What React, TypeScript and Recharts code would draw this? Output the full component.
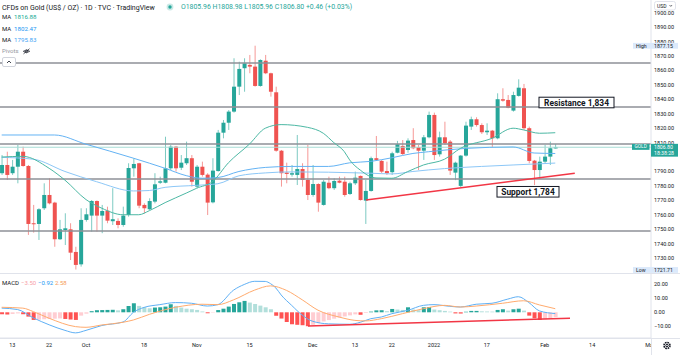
import React from 'react';
import { ComposedChart, Bar, Line, XAxis, YAxis, ReferenceLine, Cell } from 'recharts';

// Daily candles, index 0 = 9 Sep 2021 ... index 105 = 3 Feb 2022
const opens = [
  1788.8, 1794.5, 1788.8, 1793.3, 1803.7, 1793.8, 1754.1, 1753.6, 1764.5, 1773.7,
  1768.4, 1743.0, 1749.4, 1749.9, 1734.2, 1725.6, 1756.4, 1759.4, 1769.5, 1759.4,
  1762.8, 1755.5, 1755.7, 1752.9, 1759.8, 1792.2, 1795.7, 1766.8, 1763.8, 1769.1,
  1782.2, 1782.2, 1792.2, 1807.2, 1792.6, 1795.7, 1799.2, 1779.5, 1793.3, 1787.8,
  1768.6, 1790.3, 1816.9, 1823.8, 1831.5, 1848.8, 1861.6, 1863.9, 1862.7, 1849.3,
  1866.8, 1858.1, 1844.9, 1804.4, 1789.2, 1787.8, 1787.6, 1791.7, 1784.1, 1773.7,
  1781.3, 1766.8, 1782.2, 1778.4, 1783.6, 1782.9, 1774.4, 1781.8, 1786.9, 1769.8,
  1776.5, 1799.2, 1797.3, 1790.3, 1789.5, 1803.0, 1807.7, 1804.9, 1811.8, 1806.8,
  1804.4, 1813.7, 1829.2, 1801.9, 1813.7, 1810.7, 1789.2, 1780.0, 1801.0, 1821.1,
  1826.2, 1822.2, 1817.2, 1818.3, 1813.0, 1840.1, 1839.6, 1832.2, 1842.4, 1847.7,
  1820.0, 1797.5, 1791.0, 1796.8, 1800.3, 1805.96,
];
const highs = [
  1801.4, 1803.7, 1798.0, 1808.4, 1807.2, 1794.5, 1766.8, 1764.5, 1781.8, 1785.3,
  1769.0, 1756.4, 1761.0, 1754.1, 1737.8, 1764.5, 1764.5, 1770.2, 1769.9, 1766.8,
  1765.6, 1778.4, 1757.5, 1765.6, 1795.7, 1799.2, 1796.0, 1767.9, 1771.4, 1788.8,
  1786.4, 1814.1, 1808.4, 1807.7, 1801.4, 1810.7, 1801.4, 1794.5, 1796.8, 1788.8,
  1799.2, 1818.8, 1825.7, 1832.6, 1868.5, 1866.1, 1868.5, 1870.8, 1877.2, 1867.8,
  1870.8, 1858.5, 1848.8, 1804.9, 1796.1, 1794.5, 1815.3, 1795.7, 1808.4, 1794.5,
  1781.8, 1784.1, 1786.4, 1785.3, 1786.4, 1786.4, 1782.9, 1789.9, 1787.2, 1784.1,
  1800.3, 1814.6, 1798.0, 1796.8, 1803.7, 1811.2, 1811.8, 1813.0, 1820.0, 1808.4,
  1815.3, 1831.5, 1830.8, 1817.6, 1824.5, 1811.8, 1796.8, 1801.4, 1824.5, 1828.0,
  1827.6, 1823.4, 1823.4, 1818.8, 1844.2, 1847.7, 1843.0, 1845.3, 1853.9, 1850.7,
  1821.1, 1798.0, 1800.3, 1808.4, 1810.7, 1808.98,
];
const lows = [
  1787.6, 1784.1, 1787.6, 1781.8, 1793.3, 1746.0, 1747.6, 1742.5, 1763.3, 1767.2,
  1737.8, 1742.5, 1739.0, 1728.6, 1722.0, 1724.0, 1755.2, 1748.3, 1748.3, 1747.2,
  1754.1, 1752.9, 1750.6, 1751.7, 1758.7, 1786.4, 1764.5, 1761.0, 1763.3, 1767.9,
  1781.4, 1781.8, 1791.0, 1789.9, 1791.0, 1794.5, 1779.5, 1778.4, 1786.4, 1759.8,
  1767.9, 1789.9, 1813.0, 1818.8, 1830.8, 1843.0, 1845.3, 1858.1, 1848.8, 1848.8,
  1857.5, 1841.9, 1803.7, 1779.5, 1781.8, 1786.4, 1780.6, 1779.5, 1770.2, 1772.5,
  1762.1, 1766.3, 1777.7, 1777.2, 1781.8, 1772.5, 1773.7, 1780.6, 1769.8, 1753.6,
  1776.0, 1797.5, 1788.8, 1787.6, 1787.6, 1802.6, 1801.4, 1803.0, 1805.4, 1791.0,
  1798.0, 1813.0, 1798.0, 1800.3, 1808.4, 1787.6, 1784.0, 1779.0, 1800.3, 1818.8,
  1821.1, 1816.0, 1815.3, 1806.8, 1812.3, 1838.4, 1833.8, 1831.5, 1841.9, 1818.8,
  1795.7, 1780.6, 1785.3, 1795.7, 1794.5, 1805.96,
];
const closes = [
  1794.5, 1787.6, 1793.3, 1803.7, 1793.8, 1753.6, 1753.4, 1763.8, 1773.7, 1767.9,
  1743.0, 1749.9, 1750.6, 1733.7, 1725.2, 1756.4, 1760.3, 1769.5, 1759.4, 1762.6,
  1755.9, 1756.9, 1752.9, 1759.4, 1792.4, 1795.2, 1766.3, 1764.5, 1769.5, 1781.1,
  1783.2, 1792.2, 1807.2, 1792.2, 1796.1, 1799.2, 1782.9, 1793.3, 1787.6, 1768.4,
  1790.6, 1816.9, 1823.8, 1831.5, 1848.8, 1861.1, 1865.0, 1862.7, 1849.3, 1867.3,
  1858.1, 1845.3, 1804.4, 1788.8, 1788.3, 1788.8, 1791.7, 1784.1, 1773.7, 1781.3,
  1768.4, 1782.9, 1778.4, 1783.4, 1782.2, 1773.7, 1781.8, 1785.7, 1770.2, 1776.5,
  1799.2, 1798.0, 1789.9, 1788.8, 1802.6, 1808.9, 1802.1, 1811.4, 1806.1, 1804.4,
  1813.7, 1829.2, 1801.4, 1813.7, 1809.6, 1790.6, 1796.1, 1801.0, 1821.8, 1826.2,
  1822.2, 1817.2, 1818.3, 1813.0, 1840.1, 1839.1, 1834.2, 1843.0, 1848.1, 1820.0,
  1797.3, 1791.0, 1796.8, 1800.3, 1806.1, 1806.8,
];

// moving averages: [bar index, value]
const maFast: [number, number][] = [
  [0, 1800], [4, 1800.5], [9, 1792.2], [12, 1784], [16, 1770.5], [19, 1764.5], [23, 1760],
  [26, 1760], [28, 1762.8], [31, 1768.4], [35, 1775], [37, 1778.4], [40, 1783], [43, 1796],
  [47, 1809], [50, 1820], [53, 1822.5], [58, 1820.6], [61, 1816.5], [63, 1810], [65, 1803.7],
  [66, 1798], [68, 1791], [71, 1785.5], [74, 1785.3], [77, 1789.9], [80, 1794.5], [84, 1798.5],
  [87, 1806], [93, 1813], [97, 1820], [99, 1818.8], [102, 1816.5], [105, 1816.88],
];
const maMid: [number, number][] = [
  [0, 1815.3], [10, 1815.3], [16, 1808.9], [25, 1799.2], [31, 1792.2], [35, 1787.1],
  [38, 1785.3], [41, 1785.8], [45, 1790], [50, 1792.8], [55, 1793.5], [62, 1793.5],
  [66, 1796], [70, 1797], [74, 1799.5], [78, 1802.5], [81, 1803.7], [88, 1806], [97, 1807],
  [101, 1802.8], [105, 1802.47],
];
const maSlow: [number, number][] = [
  [0, 1799.8], [6, 1798.5], [12, 1790], [18, 1782.9], [25, 1776.5], [28, 1776.8],
  [31, 1779], [37, 1780.4], [41, 1781.5], [45, 1787], [50, 1789], [55, 1789.7], [62, 1789.5],
  [70, 1788.8], [74, 1788.3], [78, 1790], [84, 1792], [91, 1793.5], [97, 1794.5], [105, 1795.83],
];

// MACD pane
const histValues = [
  -1.4, -1.6, -1.2, -0.8, -1.4, -3.1, -5.5, -5.3, -5.0, -4.8,
  -4.6, -4.4, -4.8, -5.2, -5.5, -2.4, -1.0, 0.8, 1.5, 1.6,
  1.7, 1.8, 1.4, 2.2, 4.6, 6.5, 4.6, 3.6, 2.9, 3.4,
  3.6, 4.1, 5.8, 4.6, 3.4, 2.6, 2.2, 1.7, 0.6, -0.7,
  -0.3, 1.6, 2.6, 4.1, 6.0, 7.2, 8.2, 7.0, 6.0, 4.8,
  3.6, 2.2, -2.5, -4.5, -7.0, -8.6, -9.0, -9.3, -10.0, -9.0,
  -7.8, -6.6, -5.6, -4.6, -3.8, -3.0, -2.2, -1.5, -1.8, -0.5,
  0.5, 1.4, 1.5, 0.8, 2.4, 2.0, 1.7, 3.6, 2.0, 1.5,
  3.6, 3.8, 2.0, 1.5, 1.0, 0.5, -0.8, -0.9, 0.4, 1.0,
  1.0, 0.7, 0.6, 0.5, 1.7, 2.2, 1.2, 2.2, 2.6, 1.2,
  -2.4, -4.3, -5.5, -5.0, -4.3, -3.5,
];
const macdLine: [number, number][] = [
  [0, 3], [3, 2], [6, -4], [9, -9], [12, -13], [14, -14.8], [16, -13], [19, -9.5], [23, -7],
  [25, 0], [27, 3.5], [30, 5.5], [33, 7], [36, 6.5], [39, 4.5], [41, 5.5], [44, 16], [46, 20],
  [48, 22.3], [50, 22.2], [51, 20.6], [52, 17.5], [53, 12.5], [55, 5], [57, -2], [59, -6.5],
  [62, -8.3], [66, -8.6], [68, -7.2], [70, -4.6], [72, -3.4], [74, -1], [77, 1.4], [80, 5],
  [82, 5.5], [85, 4.3], [87, 3.8], [90, 5.8], [93, 6.5], [96, 9.5], [98, 11.2], [100, 7],
  [102, 1], [105, -0.92],
];
const signalLine: [number, number][] = [
  [0, 3.6], [4, 3], [6, 0.5], [9, -4.3], [14, -10.3], [16, -10.8], [19, -9.1], [23, -7.2],
  [25, -5.5], [28, -1.5], [33, 3.6], [38, 5.8], [41, 5.5], [44, 9], [48, 16], [51, 19],
  [54, 15.8], [57, 9], [60, 1.5], [64, -3.4], [67, -5.8], [69, -6.2], [72, -4.6], [76, -1],
  [80, 2.6], [84, 5], [87, 3.8], [90, 4.5], [95, 6.5], [99, 8.3], [102, 5.3], [105, 2.58],
];

const tickIdx = [2, 9, 16, 27, 37, 47, 59, 67, 74, 82, 92, 103, 112, 123];
const tickLabels = ['13', '22', 'Oct', '18', 'Nov', '15', 'Dec', '13', '22', '2022', '17', 'Feb', '14', 'Mar'];
const priceTicks = [1730, 1740, 1750, 1760, 1770, 1780, 1790, 1810, 1820, 1830, 1840, 1850, 1860, 1870, 1880, 1890, 1900];
const macdTicks = [-10, 0, 10, 20];

const levels = [1865.2, 1834.7, 1809.1, 1784.8, 1748.7];
const resistance = 1834.7;
const support = 1784.8;
const lastPrice = 1806.8;
const periodHigh = 1877.15;
const periodLow = 1721.71;
const trendMain = [{ x: 69.1, y: 1770.2 }, { x: 108.7, y: 1788.8 }];
const trendMacd = [{ x: 58.1, y: -9.9 }, { x: 107.8, y: -4.3 }];

const X_DOMAIN = [-0.32, 123.16];
const P_DOMAIN = [1719.6, 1908.9];
const MAIN_H = 273;
const UP = '#26a69a';
const DOWN = '#ef5350';
const FONT = 'Roboto, "Liberation Sans", sans-serif';

// same linear mapping as the main pane's y axis, for the tags drawn over the price scale
const priceY = (v: number) => ((P_DOMAIN[1] - v) / (P_DOMAIN[1] - P_DOMAIN[0])) * MAIN_H;

const rows: any[] = opens.map((o, i) => ({
  i, open: o, high: highs[i], low: lows[i], close: closes[i], range: [lows[i], highs[i]],
}));
maFast.forEach(([i, v]) => { rows[i].maFast = v; });
maMid.forEach(([i, v]) => { rows[i].maMid = v; });
maSlow.forEach(([i, v]) => { rows[i].maSlow = v; });

const macdRows: any[] = histValues.map((h, i) => ({ i, hist: h }));
macdLine.forEach(([i, v]) => { macdRows[i].macd = v; });
signalLine.forEach(([i, v]) => { macdRows[i].signal = v; });

const histColor = (v: number, prev: number | undefined) => {
  if (v >= 0) return prev === undefined || v >= prev ? '#26a69a' : '#b2dfdb';
  return prev === undefined || v <= prev ? '#ff5252' : '#ffcdd2';
};

const Candle = (props: any) => {
  const { x, y, width, height, payload } = props;
  if (!payload || y == null) return null;
  const { open, close, high, low } = payload;
  const top = Math.min(y, y + height);
  const h = Math.abs(height);
  const span = high - low || 1;
  const toY = (v: number) => top + ((high - v) / span) * h;
  const color = close >= open ? UP : DOWN;
  const cx = x + width / 2;
  const bTop = toY(Math.max(open, close));
  const bH = Math.max(1, toY(Math.min(open, close)) - bTop);
  return (
    <g>
      <line x1={cx} x2={cx} y1={top} y2={top + h} stroke={color} strokeOpacity={0.6} strokeWidth={1} />
      <rect x={x} y={bTop} width={width} height={bH} fill={color} />
    </g>
  );
};

const boxTag = (text: string, dx: number, dy: number, w: number) => (p: any) => {
  const vb = p.viewBox;
  return (
    <g>
      <rect x={vb.x + dx} y={vb.y + dy} width={w} height={10.6} fill="#fff" stroke="#131722" strokeWidth={1} />
      <text x={vb.x + dx + w / 2} y={vb.y + dy + 5.5} textAnchor="middle" dominantBaseline="central"
        fontSize={8.4} fontWeight={700} fill="#131722" fontFamily={FONT}>{text}</text>
    </g>
  );
};

const AxisTag = ({ y, name, value }: { y: number; name: string; value: string }) => (
  <g fontSize={5.2} fill="#131722">
    <rect x={633} y={y - 2.9} width={45} height={5.8} fill="#dbe9fb" />
    <text x={636} y={y} dominantBaseline="central">{name}</text>
    <text x={654} y={y} dominantBaseline="central">{value}</text>
  </g>
);

const fmtMacd = (v: number) => (v < 0 ? '\u2212' + Math.abs(v).toFixed(2) : v.toFixed(2));

export default function App() {
  const yLast = priceY(lastPrice);
  return (
    <div style={{ position: 'absolute', left: 0, top: 0, width: 680, height: 355, background: '#fff', fontFamily: FONT, overflow: 'hidden' }}>
      <div style={{ position: 'absolute', left: 0, top: 0 }}>
        <ComposedChart width={680} height={MAIN_H} data={rows} margin={{ top: 0, right: 0, bottom: 0, left: 0 }}>
          <XAxis dataKey="i" type="number" domain={X_DOMAIN} allowDataOverflow hide />
          <YAxis orientation="right" width={29} domain={P_DOMAIN} allowDataOverflow ticks={priceTicks}
            interval={0} tickFormatter={(v) => v.toFixed(2)} tick={{ fontSize: 5.5, fill: '#131722' }}
            tickLine={false} tickSize={0} tickMargin={3} axisLine={{ stroke: '#e0e3eb' }} />
          {levels.map((l) => (
            <ReferenceLine key={l} y={l} stroke="#8e9097" strokeWidth={1.5} />
          ))}
          <ReferenceLine y={lastPrice} stroke="#a6dcd5" strokeWidth={1} />
          <Bar dataKey="range" barSize={4} isAnimationActive={false} shape={(p: any) => <Candle {...p} />} />
          <Line dataKey="maSlow" type="monotone" stroke="#8cc7f7" strokeWidth={1} dot={false} activeDot={false} connectNulls isAnimationActive={false} />
          <Line dataKey="maMid" type="monotone" stroke="#64b3f4" strokeWidth={1} dot={false} activeDot={false} connectNulls isAnimationActive={false} />
          <Line dataKey="maFast" type="monotone" stroke="#4cb8a4" strokeWidth={1} dot={false} activeDot={false} connectNulls isAnimationActive={false} />
          <ReferenceLine segment={trendMain} stroke="#f23645" strokeWidth={1.5} />
          <ReferenceLine y={resistance} stroke="none" label={boxTag('Resistance 1,834', 539, -9.8, 75)} />
          <ReferenceLine y={support} stroke="none" label={boxTag('Support 1,784', 497, 7.5, 62)} />
        </ComposedChart>
      </div>
      <div style={{ position: 'absolute', left: 0, top: 274 }}>
        <ComposedChart width={680} height={81} data={macdRows} margin={{ top: 0, right: 0, bottom: 0, left: 0 }}>
          <XAxis dataKey="i" type="number" domain={X_DOMAIN} allowDataOverflow ticks={tickIdx} interval={0}
            tickFormatter={(v) => tickLabels[tickIdx.indexOf(v)] ?? ''} height={17}
            tick={{ fontSize: 5.5, fill: '#131722' }} tickLine={false} tickSize={0} tickMargin={5}
            axisLine={{ stroke: '#e0e3eb' }} />
          <YAxis orientation="right" width={29} domain={[-18.49, 27.55]} allowDataOverflow ticks={macdTicks}
            interval={0} tickFormatter={fmtMacd} tick={{ fontSize: 5.5, fill: '#131722' }}
            tickLine={false} tickSize={0} tickMargin={3} axisLine={{ stroke: '#e0e3eb' }} />
          <Bar dataKey="hist" barSize={4} isAnimationActive={false}>
            {macdRows.map((r, i) => (
              <Cell key={i} fill={histColor(r.hist, i > 0 ? macdRows[i - 1].hist : undefined)} />
            ))}
          </Bar>
          <Line dataKey="macd" type="monotone" stroke="#5fb0f5" strokeWidth={1} dot={false} activeDot={false} connectNulls isAnimationActive={false} />
          <Line dataKey="signal" type="monotone" stroke="#ffab6e" strokeWidth={1} dot={false} activeDot={false} connectNulls isAnimationActive={false} />
          <ReferenceLine segment={trendMacd} stroke="#f23645" strokeWidth={1.5} />
        </ComposedChart>
      </div>
      <svg width={680} height={355} style={{ position: 'absolute', left: 0, top: 0, pointerEvents: 'none' }} fontFamily={FONT}>
        <line x1={0} x2={680} y1={273.5} y2={273.5} stroke="#e0e3eb" />
        <rect x={651.5} y={339} width={29} height={16} fill="#fff" />
        <line x1={0} x2={680} y1={338.5} y2={338.5} stroke="#e0e3eb" />
        <line x1={651.5} x2={651.5} y1={338} y2={355} stroke="#e0e3eb" />
        <g transform="translate(667,345.5)" fill="none" stroke="#131722" strokeWidth={1}>
          <circle r={3} strokeDasharray="1.6 0.75" strokeWidth={1.6} />
          <circle r={1.2} />
        </g>
        <rect x={654.5} y={1.5} width={21} height={8.5} rx={2} fill="#fff" stroke="#e0e3eb" />
        <text x={657} y={7.9} fontSize={5} fill="#131722">USD</text>
        <path d="M669.5 5 l1.3 1.4 l1.3 -1.4" fill="none" stroke="#131722" strokeWidth={0.6} />

        {/* tags on the price scale */}
        <AxisTag y={priceY(periodHigh)} name="High" value="1877.15" />
        <AxisTag y={priceY(periodLow)} name="Low" value="1721.71" />
        <g fontSize={5.2} fill="#fff">
          <rect x={632} y={yLast - 3.2} width={17.5} height={5.8} fill={UP} />
          <text x={640.7} y={yLast - 0.3} textAnchor="middle" dominantBaseline="central" fontSize={4.8}>GOLD</text>
          <rect x={651} y={yLast - 3.4} width={27} height={12.8} fill={UP} />
          <text x={654} y={yLast - 0.2} dominantBaseline="central">1806.80</text>
          <text x={654} y={yLast + 6.2} dominantBaseline="central">18:38:28</text>
        </g>

        <text x={2} y={9.6} fontSize={7} fill="#131722">CFDs on Gold (US$ / OZ) · 1D · TVC · TradingView</text>
        <circle cx={170} cy={7} r={3.4} fill={UP} fillOpacity={0.25} />
        <circle cx={170} cy={7} r={1.7} fill={UP} />
        <text x={181} y={9.4} fontSize={6.9} fill={UP}>O1805.96 H1808.98 L1805.96 C1806.80 +0.46 (+0.03%)</text>
        <text x={2} y={19.4} fontSize={6} fill="#131722">MA</text>
        <text x={14} y={19.4} fontSize={6.2} fill="#22ab94">1816.88</text>
        <text x={2} y={31} fontSize={6} fill="#131722">MA</text>
        <text x={14} y={31} fontSize={6.2} fill="#2196f3">1802.47</text>
        <text x={2} y={42.4} fontSize={6} fill="#131722">MA</text>
        <text x={14} y={42.4} fontSize={6.2} fill="#42a5f5">1795.83</text>
        <text x={2} y={53.4} fontSize={6} fill="#9598a1">Pivots</text>
        <g transform="translate(26.5,51.3)" fill="none" stroke="#131722" strokeWidth={0.7}>
          <path d="M-3.2 0 Q0 -3 3.2 0 Q0 3 -3.2 0 Z" />
          <circle r={1} />
          <line x1={-3} y1={2.6} x2={3} y2={-2.6} />
        </g>
        <rect x={2.5} y={57.5} width={13} height={9} rx={1.5} fill="#fff" stroke="#d1d4dc" />
        <path d="M7 63 l2 -2 l2 2" fill="none" stroke="#131722" strokeWidth={0.8} />

        <text x={2} y={285.4} fontSize={6} fill="#131722">MACD</text>
        <text x={21} y={285.4} fontSize={6} fill="#f7a1a8">{'\u22123.50'}</text>
        <text x={38} y={285.4} fontSize={6} fill="#2196f3">{'\u22120.92'}</text>
        <text x={55} y={285.4} fontSize={6} fill="#f59a5a">2.58</text>
      </svg>
    </div>
  );
}
